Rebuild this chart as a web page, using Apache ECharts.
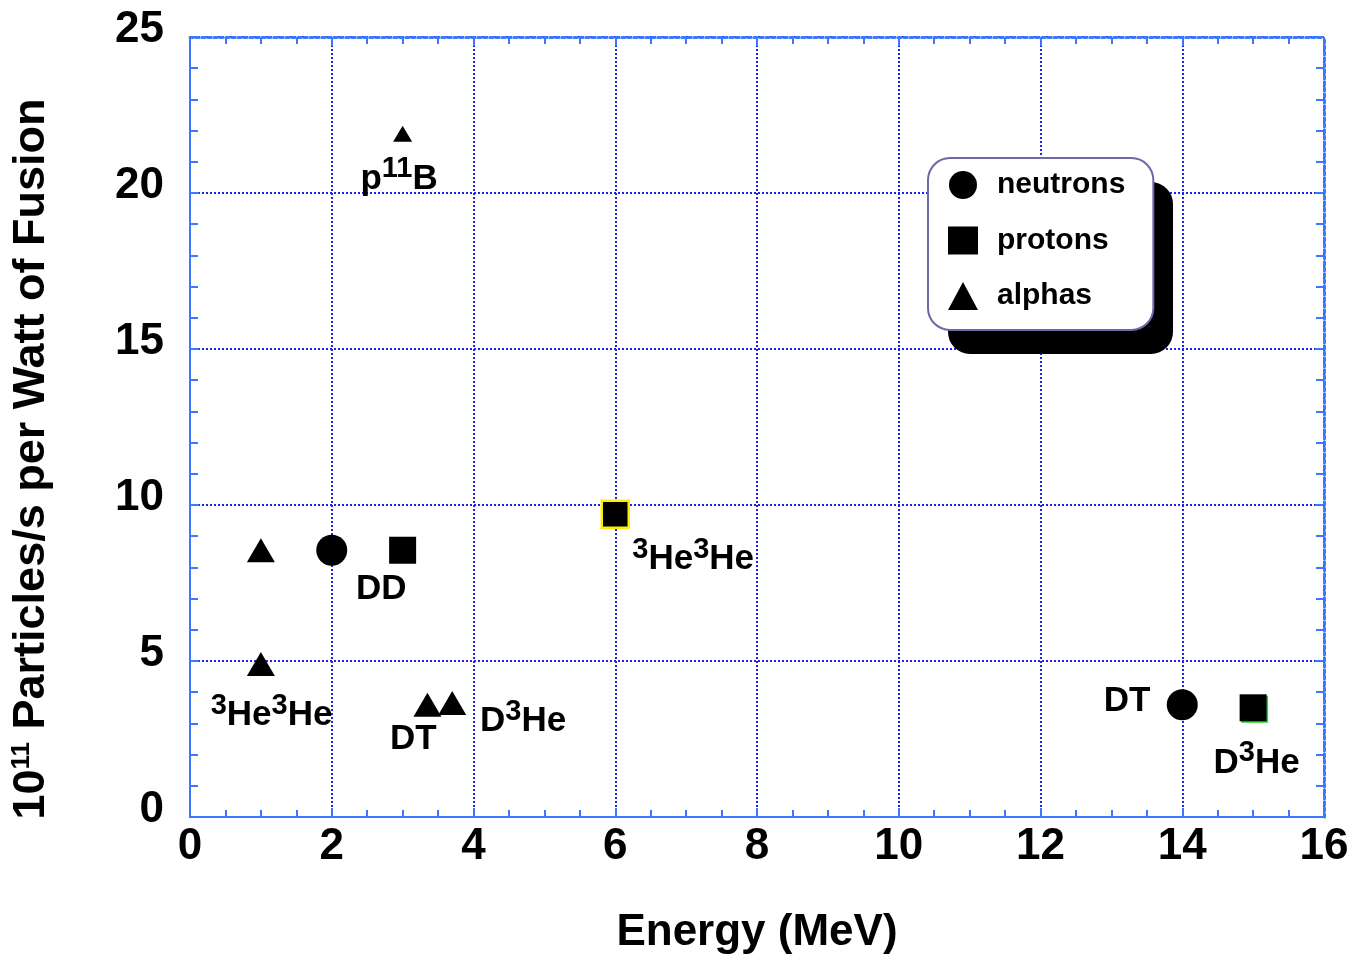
<!DOCTYPE html>
<html><head><meta charset="utf-8">
<script src="https://cdn.jsdelivr.net/npm/echarts@6/dist/echarts.min.js"></script>
<style>html,body{margin:0;padding:0;background:#fff}#c{width:1370px;height:960px}</style>
</head><body><div id="c"></div>
<script>
// Data (Energy MeV, 10^11 particles/s per W)
const neutrons = [[2.0, 8.55], [14.0, 3.6]];
const protons  = [[3.0, 8.55], [6.0, 9.7], [15.0, 3.5]];
const alphas   = [[1.0, 8.55], [1.0, 4.9], [3.0, 21.9], [3.35, 3.6], [3.7, 3.65]];
// annotation labels: [x, y, text]
const labels = [
  [2.95, 20.45, 'p{s|11}B'],
  [2.7, 7.3, 'DD'],
  [7.1, 8.25, '{s|3}He{s|3}He'],
  [1.15, 3.25, '{s|3}He{s|3}He'],
  [3.15, 2.5, 'DT'],
  [4.7, 3.05, 'D{s|3}He'],
  [13.22, 3.72, 'DT'],
  [15.05, 1.72, 'D{s|3}He']
];
const xTicks = {min: 0, max: 16, interval: 2};
const yTicks = {min: 0, max: 25, interval: 5};

const FONT = 'Liberation Sans, Arial, Helvetica, sans-serif';
const AXIS_BLUE = '#3a78ff';
const GRID_BLUE = '#2222e6';

const chart = echarts.init(document.getElementById('c'));
const baseAxis = {
  type: 'value',
  axisLine: {show: true, onZero: false, lineStyle: {color: AXIS_BLUE, width: 2}},
  axisTick: {show: true, inside: true, length: 9, lineStyle: {color: AXIS_BLUE, width: 2}},
  minorTick: {show: true, splitNumber: 4, length: 7, lineStyle: {color: AXIS_BLUE, width: 2}},
  splitLine: {show: false},
};
const labelStyle = {fontFamily: FONT, fontWeight: 'bold', fontSize: 44, color: '#000'};
const yMinor = {show: true, splitNumber: 5, length: 8, lineStyle: {color: AXIS_BLUE, width: 2}};

chart.setOption({
  animation: false,
  backgroundColor: '#fff',
  grid: {left: 190, right: 46, top: 37, bottom: 141, containLabel: false},
  graphic: [{
    type: 'rect', left: 948, top: 182, z: 1, silent: true,
    shape: {width: 225, height: 172, r: 22},
    style: {fill: '#000'}
  }],
  legend: {
    orient: 'vertical', left: 928, top: 158, z: 10,
    padding: [12, 28, 19, 20],
    itemWidth: 30, itemHeight: 28, itemGap: 25.5,
    backgroundColor: '#fff', borderColor: '#6a6aa8', borderWidth: 2, borderRadius: 22,
    textStyle: {fontFamily: FONT, fontWeight: 'bold', fontSize: 30, color: '#000', padding: [0, 0, 0, 14]},
    itemStyle: {opacity: 1},
    data: [{name: 'neutrons', icon: 'circle'}, {name: 'protons', icon: 'rect'}, {name: 'alphas', icon: 'triangle'}]
  },
  xAxis: [
    Object.assign({}, baseAxis, {
      position: 'bottom', min: xTicks.min, max: xTicks.max, interval: xTicks.interval,
      axisLabel: Object.assign({margin: 8}, labelStyle),
      splitLine: {show: true, lineStyle: {color: GRID_BLUE, type: 'dotted', width: 2}},
      name: 'Energy (MeV)', nameLocation: 'middle', nameGap: 94,
      nameTextStyle: {fontFamily: FONT, fontWeight: 'bold', fontSize: 44, color: '#000'}
    }),
    Object.assign({}, baseAxis, {
      position: 'top', min: xTicks.min, max: xTicks.max, interval: xTicks.interval,
      axisLine: {show: true, onZero: false, lineStyle: {color: AXIS_BLUE, width: 3, type: 'dotted'}},
      axisLabel: {show: false}
    })
  ],
  yAxis: [
    Object.assign({}, baseAxis, {
      position: 'left', min: yTicks.min, max: yTicks.max, interval: yTicks.interval,
      minorTick: yMinor,
      axisLabel: Object.assign({margin: 26, formatter: v => '{a|' + v + '}',
        rich: {a: {fontFamily: FONT, fontWeight: 'bold', fontSize: 44, color: '#000', padding: [0, 0, 14, 0]}}}, labelStyle),
      splitLine: {show: true, lineStyle: {color: GRID_BLUE, type: 'dotted', width: 2}},
      name: '10{s|11} Particles/s per Watt of Fusion', nameLocation: 'middle', nameGap: 135,
      nameTextStyle: {fontFamily: FONT, fontWeight: 'bold', fontSize: 45, color: '#000', padding: [0, 64, 0, 0],
        rich: {s: {fontFamily: FONT, fontWeight: 'bold', fontSize: 26, color: '#000', padding: [0, 0, 20, 0]}}}
    }),
    Object.assign({}, baseAxis, {
      position: 'right', min: yTicks.min, max: yTicks.max, interval: yTicks.interval,
      minorTick: yMinor,
      axisLine: {show: true, onZero: false, lineStyle: {color: AXIS_BLUE, width: 3, type: 'dotted'}},
      axisLabel: {show: false}
    })
  ],
  series: [
    {name: 'neutrons', type: 'scatter', symbol: 'circle', symbolSize: 31,
     itemStyle: {color: '#000', opacity: 1}, data: neutrons, z: 5},
    {name: 'protons', type: 'scatter', symbol: 'rect', symbolSize: 27,
     itemStyle: {color: '#000', opacity: 1}, z: 5,
     data: protons.map((p, i) => i === 1 ? {value: p, itemStyle: {borderColor: '#ffee00', borderWidth: 2.5}}
                                   : i === 2 ? {value: p, itemStyle: {shadowColor: '#22dd22', shadowOffsetX: 1.5, shadowOffsetY: 1.5, shadowBlur: 0}}
                                   : p)},
    {name: 'alphas', type: 'scatter', symbol: 'triangle', symbolSize: [28, 24],
     itemStyle: {color: '#000', opacity: 1}, z: 5,
     data: alphas.map(p => p[1] > 20 ? {value: p, symbolSize: [19, 16]} : p)},
    {name: 'annotations', type: 'scatter', symbolSize: 0, silent: true, z: 6,
     itemStyle: {opacity: 1},
     data: labels.map(l => ({value: [l[0], l[1]], name: l[2]})),
     label: {show: true, position: 'inside', formatter: p => p.name,
       fontFamily: FONT, fontWeight: 'bold', fontSize: 35, color: '#000',
       rich: {s: {fontFamily: FONT, fontWeight: 'bold', fontSize: 29, color: '#000', padding: [0, 0, 20, 0]}}}}
  ]
});
</script></body></html>
